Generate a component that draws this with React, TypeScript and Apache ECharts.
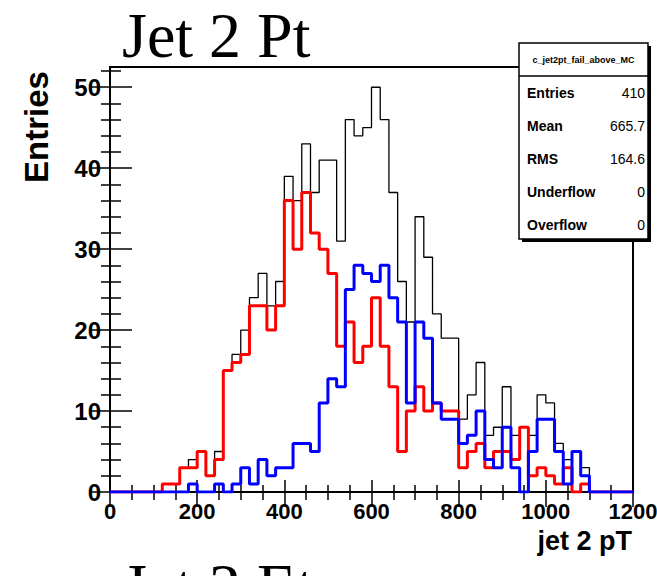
import React, { useEffect, useRef } from "react";
import * as echarts from "echarts";

const BIN_WIDTH = 20;
const X_MIN = 0;
const X_MAX = 1200;
const Y_MAX = 52.5;

// Black: all
const totalCounts = [0, 0, 0, 0, 0, 0, 1, 1, 3, 4, 5, 2, 5, 15, 17, 20, 24, 27, 23, 26, 39, 36, 43, 37, 41, 41, 31, 46, 44, 45, 50, 46, 37, 26, 21, 34, 29, 22, 19, 19, 9, 12, 16, 7, 8, 13, 7, 8, 7, 12, 11, 6, 4, 5, 3, 0, 0, 0, 0, 0];
// Red
const redCounts = [0, 0, 0, 0, 0, 0, 1, 1, 3, 3, 5, 2, 4, 15, 16, 17, 23, 23, 20, 23, 36, 30, 37, 32, 30, 27, 18, 21, 16, 18, 24, 18, 13, 5, 10, 13, 10, 11, 10, 10, 3, 5, 6, 3, 5, 5, 4, 8, 2, 3, 2, 1, 3, 0, 1, 0, 0, 0, 0, 0];
// Blue
const blueCounts = [0, 0, 0, 0, 0, 0, 0, 0, 0, 1, 0, 0, 1, 0, 1, 3, 1, 4, 2, 3, 3, 6, 6, 5, 11, 14, 13, 25, 28, 27, 26, 28, 24, 21, 11, 21, 19, 11, 9, 9, 6, 7, 10, 4, 3, 8, 3, 0, 5, 9, 9, 5, 1, 5, 2, 0, 0, 0, 0, 0];

const xMajorTicks = [0, 200, 400, 600, 800, 1000, 1200];
const xMinorTicks = [50, 100, 150, 250, 300, 350, 450, 500, 550, 650, 700, 750, 850, 900, 950, 1050, 1100, 1150];
const yMajorTicks = [0, 10, 20, 30, 40, 50];
const yMinorTicks = [2, 4, 6, 8, 12, 14, 16, 18, 22, 24, 26, 28, 32, 34, 36, 38, 42, 44, 46, 48, 52];

const statsLabels = ["Entries", "Mean", "RMS", "Underflow", "Overflow"];
const statsValues = ["410", "665.7", "164.6", "0", "0"];
const statsTitle = "c_jet2pt_fail_above_MC";

function histData(counts: number[]) {
  const d: number[][] = counts.map((v, i) => [X_MIN + i * BIN_WIDTH, v]);
  d.push([X_MIN + counts.length * BIN_WIDTH, counts[counts.length - 1]]);
  return d;
}

const SANS = "'Liberation Sans', Arial, Helvetica, sans-serif";
const SERIF = "'Liberation Serif', 'Times New Roman', Times, serif";

export default function App() {
  const ref = useRef<HTMLDivElement>(null);
  useEffect(() => {
    if (!ref.current) return;
    const chart = echarts.init(ref.current, undefined, { renderer: "svg" });

    const labelStyle = {
      fontFamily: SANS,
      fontWeight: "bold" as const,
      color: "#000",
    };
    const tickLine = { color: "#000", width: 1.5 };
    const plain = (v: number) => String(v);

    const mkX = (position: string, ticks: number[], len: number, labels: boolean) => ({
      type: "value",
      position,
      min: X_MIN,
      max: X_MAX,
      axisLine: { show: false },
      splitLine: { show: false },
      axisTick: { show: true, inside: true, length: len, customValues: ticks, lineStyle: tickLine },
      axisLabel: labels
        ? { show: true, customValues: xMajorTicks, margin: 8, formatter: plain, fontSize: 22, ...labelStyle }
        : { show: false },
    });
    const mkY = (position: string, ticks: number[], len: number, labels: boolean) => ({
      type: "value",
      position,
      min: 0,
      max: Y_MAX,
      axisLine: { show: false },
      splitLine: { show: false },
      axisTick: { show: true, inside: true, length: len, customValues: ticks, lineStyle: tickLine },
      axisLabel: labels
        ? { show: true, customValues: yMajorTicks, margin: 9, formatter: plain, fontSize: 24, ...labelStyle }
        : { show: false },
    });

    const boxX = 519;
    const boxY = 43;
    const boxW = 129;
    const boxH = 196;
    const rowY = [93, 126, 159, 192, 225];

    const statsElements: any[] = [
      { type: "rect", shape: { x: boxX + 3, y: boxY + 3, width: boxW, height: boxH }, style: { fill: "#000" }, z: 100 },
      { type: "rect", shape: { x: boxX, y: boxY, width: boxW, height: boxH }, style: { fill: "#fff", stroke: "#000", lineWidth: 1.5 }, z: 101 },
      { type: "line", shape: { x1: boxX, y1: 76, x2: boxX + boxW, y2: 76 }, style: { stroke: "#000", lineWidth: 1.5 }, z: 102 },
      {
        type: "text", x: boxX + boxW / 2, y: 60, z: 102,
        style: { text: statsTitle, font: `bold 9px ${SANS}`, fill: "#000", align: "center", verticalAlign: "middle" },
      },
    ];
    statsLabels.forEach((lab, i) => {
      statsElements.push({
        type: "text", x: boxX + 8, y: rowY[i], z: 102,
        style: { text: lab, font: `bold 14px ${SANS}`, fill: "#000", align: "left", verticalAlign: "middle" },
      });
      statsElements.push({
        type: "text", x: boxX + boxW - 3, y: rowY[i], z: 102,
        style: { text: statsValues[i], font: `14px ${SANS}`, fill: "#000", align: "right", verticalAlign: "middle" },
      });
    });

    chart.setOption({
      animation: false,
      backgroundColor: "#fff",
      grid: {
        left: 110,
        top: 67,
        width: 523,
        height: 425,
        show: true,
        borderColor: "#000",
        borderWidth: 2,
        backgroundColor: "transparent",
        containLabel: false,
        outerBoundsMode: "none",
      },
      xAxis: [
        mkX("bottom", xMajorTicks, 12, true),
        mkX("bottom", xMinorTicks, 7, false),
        mkX("top", xMajorTicks, 15, false),
        mkX("top", xMinorTicks, 8, false),
      ],
      yAxis: [
        mkY("left", yMajorTicks, 22, true),
        mkY("left", yMinorTicks, 11, false),
        mkY("right", yMajorTicks, 19, false),
        mkY("right", yMinorTicks, 9, false),
      ],
      series: [
        {
          name: "all",
          type: "line",
          step: "end",
          data: histData(totalCounts),
          showSymbol: false,
          silent: true,
          lineStyle: { color: "#000", width: 1.3 },
          z: 2,
        },
        {
          name: "red",
          type: "line",
          step: "end",
          data: histData(redCounts),
          showSymbol: false,
          silent: true,
          lineStyle: { color: "#ff0000", width: 3 },
          z: 3,
        },
        {
          name: "blue",
          type: "line",
          step: "end",
          data: histData(blueCounts),
          showSymbol: false,
          silent: true,
          lineStyle: { color: "#0000ff", width: 3 },
          z: 4,
        },
      ],
      graphic: [
        {
          type: "text", x: 122, y: 35, z: 50,
          style: { text: "Jet 2 Pt", font: `64px ${SERIF}`, fill: "#000", align: "left", verticalAlign: "middle" },
        },
        {
          type: "text", x: 122, y: 586, z: 50,
          style: { text: "Jet 2 Eta", font: `64px ${SERIF}`, fill: "#000", align: "left", verticalAlign: "middle" },
        },
        {
          type: "text", x: 36, y: 127, rotation: Math.PI / 2, z: 50,
          style: { text: "Entries", font: `bold 33px ${SANS}`, fill: "#000", align: "center", verticalAlign: "middle" },
        },
        {
          type: "text", x: 632, y: 541, z: 50,
          style: { text: "jet 2 pT", font: `bold 27px ${SANS}`, fill: "#000", align: "right", verticalAlign: "middle" },
        },
        ...statsElements,
      ],
    });
    return () => chart.dispose();
  }, []);

  return (
    <div
      ref={ref}
      style={{ position: "fixed", left: 0, top: 0, width: 657, height: 576, overflow: "hidden" }}
    />
  );
}
